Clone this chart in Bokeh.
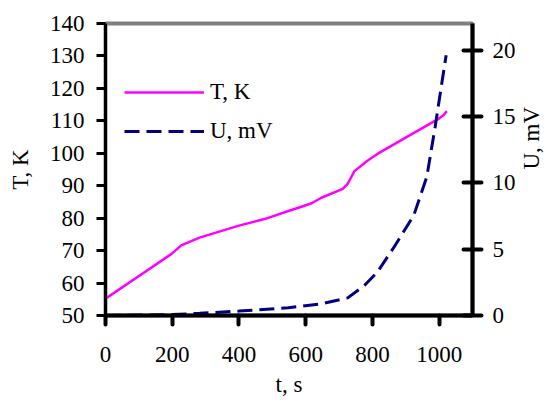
import math
from bokeh.plotting import figure
from bokeh.models import Range1d, LinearAxis, FixedTicker, Legend, LegendItem
from bokeh.embed import file_html
from bokeh.resources import INLINE

# ---- data ----
t_T = [0, 198, 227, 282, 400, 479, 548, 578, 618, 647, 711, 726, 746, 786, 815, 884, 998, 1013, 1023]
T_K = [55.2, 69.0, 71.6, 74.0, 77.7, 79.8, 82.2, 83.2, 84.6, 86.3, 89.0, 90.6, 94.5, 97.8, 99.8, 103.9, 110.6, 111.7, 113.0]

t_U = [0, 200, 282, 400, 548, 647, 726, 776, 815, 865, 924, 963, 988, 1008, 1021]
U_mV = [0.0, 0.07, 0.17, 0.33, 0.58, 0.88, 1.33, 2.26, 3.27, 5.16, 7.55, 10.44, 14.2, 17.5, 19.6]

x_ticks = [0, 200, 400, 600, 800, 1000]
T_ticks = [50, 60, 70, 80, 90, 100, 110, 120, 130, 140]
U_ticks = [0, 5, 10, 15, 20]

FONT = "Liberation Serif"
FS = "23px"

p = figure(width=559, height=410, output_backend="svg", toolbar_location=None,
           x_range=Range1d(0, 1100), y_range=Range1d(50, 140),
           min_border_left=105, min_border_right=83, min_border_top=23, min_border_bottom=95)
p.extra_y_ranges = {"u": Range1d(0, 22)}
p.xgrid.visible = False
p.ygrid.visible = False
p.outline_line_color = "#808080"
p.outline_line_width = 4
p.background_fill_color = "white"
p.border_fill_color = "white"

rT = p.line(t_T, T_K, line_color="#FF00FF", line_width=2.5)
rU = p.line(t_U, U_mV, line_color="#000080", line_width=3, line_dash="15 7", y_range_name="u")

# bottom axis
xa = p.xaxis[0]
xa.ticker = FixedTicker(ticks=x_ticks)
xa.axis_line_width = 4
xa.axis_line_color = "black"
xa.major_tick_line_width = 4
xa.major_tick_line_cap = "round"
xa.major_tick_out = 9
xa.major_tick_in = 0
xa.minor_tick_line_color = None
xa.major_label_text_font = FONT
xa.major_label_text_font_size = FS
xa.major_label_text_color = "black"
xa.major_label_standoff = 22
xa.axis_label = "t, s"
xa.axis_label_text_font = FONT
xa.axis_label_text_font_size = FS
xa.axis_label_text_font_style = "normal"
xa.axis_label_text_color = "black"
xa.axis_label_standoff = 7

# left axis
ya = p.yaxis[0]
ya.ticker = FixedTicker(ticks=T_ticks)
ya.axis_line_width = 3
ya.axis_line_color = "black"
ya.major_tick_line_width = 3
ya.major_tick_out = 9
ya.major_tick_in = 0
ya.minor_tick_line_color = None
ya.major_label_text_font = FONT
ya.major_label_text_font_size = FS
ya.major_label_text_color = "black"
ya.major_label_standoff = 12
ya.axis_label = "T, K"
ya.axis_label_text_font = FONT
ya.axis_label_text_font_size = FS
ya.axis_label_text_font_style = "normal"
ya.axis_label_text_color = "black"
ya.axis_label_standoff = 14

# right axis
ra = LinearAxis(y_range_name="u", ticker=FixedTicker(ticks=U_ticks))
ra.axis_line_width = 4
ra.axis_line_color = "black"
ra.major_tick_line_width = 4
ra.major_tick_line_cap = "round"
ra.major_tick_out = 9
ra.major_tick_in = 9
ra.minor_tick_line_color = None
ra.major_label_text_font = FONT
ra.major_label_text_font_size = FS
ra.major_label_text_color = "black"
ra.major_label_standoff = 11
ra.axis_label = "U, mV"
ra.axis_label_text_font = FONT
ra.axis_label_text_font_size = FS
ra.axis_label_text_font_style = "normal"
ra.axis_label_text_color = "black"
ra.axis_label_standoff = 13
ra.axis_label_orientation = math.pi / 2
p.add_layout(ra, "right")

legend = Legend(items=[LegendItem(label="T, K", renderers=[rT]),
                       LegendItem(label="U, mV", renderers=[rU])],
                location=(19, 169), border_line_color=None, background_fill_alpha=0,
                padding=0, margin=0, spacing=9, glyph_width=80, glyph_height=30,
                label_height=30, label_standoff=6, label_text_font=FONT,
                label_text_font_size=FS, label_text_color="black")
p.add_layout(legend)

open("out.html", "w").write(file_html(p, INLINE))
